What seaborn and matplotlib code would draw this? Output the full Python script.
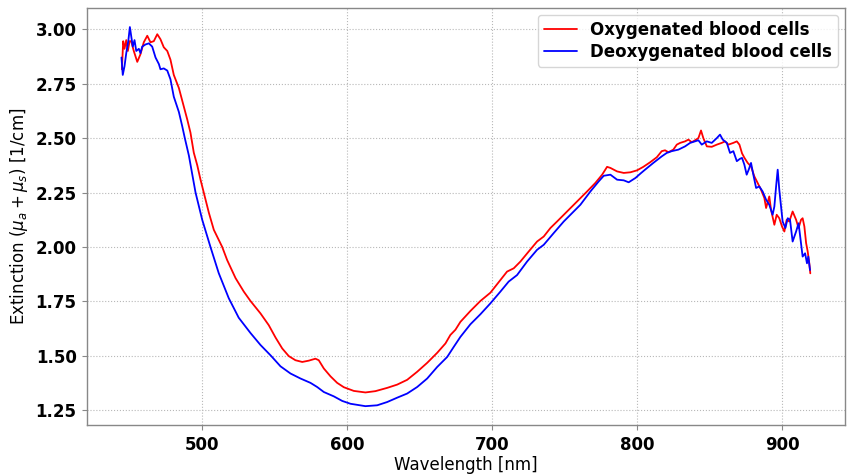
import matplotlib
matplotlib.use("Agg")
import matplotlib.pyplot as plt
import pandas as pd
import seaborn as sns

# Oxygenated blood cells: wavelength [nm] and extinction [1/cm]
oxy_wavelength = [
    444.6, 445.5, 446.4, 447.6, 448.7, 449.9, 451.0, 452.8, 455.2, 457.4,
    459.7, 462.1, 464.3, 466.6, 469.0, 471.2, 473.5, 475.9, 478.1, 480.4,
    483.9, 487.3, 489.7, 491.9, 494.2, 496.6, 498.8, 501.1, 504.6, 508.0,
    513.8, 517.2, 523.0, 528.7, 533.3, 540.2, 545.9, 550.6, 555.2, 559.7,
    564.3, 569.0, 573.5, 578.1, 580.4, 583.9, 588.5, 593.1, 597.7, 604.6,
    612.6, 619.5, 627.6, 634.5, 641.4, 648.3, 655.2, 662.1, 667.8, 671.2,
    674.7, 678.1, 685.0, 691.9, 698.8, 705.7, 710.3, 714.9, 719.5, 725.2,
    731.0, 735.6, 740.2, 744.8, 751.7, 758.6, 765.5, 771.2, 775.9, 779.3,
    781.6, 786.2, 790.8, 795.4, 800.0, 804.3, 809.0, 813.6, 817.0, 819.3,
    821.6, 825.0, 827.4, 829.7, 833.1, 835.4, 837.7, 840.0, 842.3, 844.1,
    845.7, 848.1, 851.5, 855.0, 858.4, 860.7, 863.0, 866.4, 868.8, 870.6,
    872.4, 874.0, 876.3, 878.6, 880.9, 883.2, 885.5, 887.8, 889.0, 891.2,
    892.4, 894.7, 896.3, 898.1, 900.0, 901.6, 903.2, 905.0, 907.3, 909.7,
    911.4, 913.1, 914.2, 915.4, 916.6, 917.7, 918.8, 919.5,
]
oxy_extinction = [
    2.816, 2.945, 2.910, 2.950, 2.900, 2.945, 2.945, 2.900, 2.850, 2.885,
    2.940, 2.970, 2.940, 2.945, 2.977, 2.954, 2.917, 2.900, 2.860, 2.790,
    2.730, 2.645, 2.585, 2.525, 2.433, 2.375, 2.310, 2.250, 2.157, 2.079,
    2.000, 1.940, 1.857, 1.795, 1.752, 1.695, 1.641, 1.584, 1.534, 1.499,
    1.480, 1.472, 1.478, 1.487, 1.480, 1.442, 1.406, 1.376, 1.356, 1.339,
    1.332, 1.338, 1.353, 1.368, 1.390, 1.427, 1.468, 1.514, 1.557, 1.596,
    1.620, 1.656, 1.706, 1.752, 1.790, 1.848, 1.887, 1.902, 1.933, 1.979,
    2.025, 2.048, 2.087, 2.117, 2.163, 2.209, 2.255, 2.294, 2.332, 2.368,
    2.363, 2.347, 2.340, 2.343, 2.352, 2.368, 2.389, 2.412, 2.440, 2.444,
    2.435, 2.447, 2.470, 2.478, 2.485, 2.493, 2.481, 2.490, 2.500, 2.535,
    2.500, 2.462, 2.460, 2.470, 2.478, 2.485, 2.470, 2.478, 2.485, 2.470,
    2.430, 2.410, 2.386, 2.370, 2.324, 2.294, 2.263, 2.225, 2.179, 2.232,
    2.171, 2.102, 2.148, 2.132, 2.094, 2.071, 2.125, 2.117, 2.163, 2.125,
    2.087, 2.125, 2.132, 2.094, 2.018, 1.979, 1.925, 1.879,
]

# Deoxygenated blood cells: wavelength [nm] and extinction [1/cm]
deoxy_wavelength = [
    444.3, 445.2, 446.4, 447.6, 449.0, 450.1, 451.0, 452.1, 453.3, 454.5,
    456.3, 457.4, 458.6, 460.9, 463.2, 465.5, 467.8, 470.1, 471.2, 473.5,
    475.9, 478.1, 480.4, 483.9, 486.2, 488.0, 490.8, 495.4, 500.0, 505.7,
    511.4, 518.3, 525.2, 533.3, 540.2, 547.5, 554.0, 560.9, 567.8, 574.7,
    579.3, 583.9, 590.8, 596.6, 602.3, 612.6, 620.7, 627.6, 634.5, 641.4,
    648.3, 655.2, 662.1, 669.0, 673.5, 678.1, 685.0, 691.9, 698.8, 705.7,
    711.4, 717.2, 724.1, 731.0, 735.6, 742.5, 749.4, 754.0, 760.9, 767.8,
    773.5, 777.0, 781.6, 786.2, 790.8, 794.2, 798.9, 802.3, 805.5, 811.2,
    817.0, 820.5, 823.9, 828.5, 833.1, 836.6, 840.0, 842.3, 844.6, 848.1,
    851.5, 855.0, 857.2, 859.1, 861.9, 864.1, 866.4, 868.8, 871.0, 872.4,
    874.0, 875.6, 877.0, 878.6, 880.2, 882.1, 884.3, 886.6, 889.0, 891.2,
    893.5, 894.7, 895.9, 897.0, 898.1, 899.3, 900.4, 902.3, 903.9, 905.5,
    907.3, 909.7, 911.4, 913.1, 914.2, 915.9, 917.2, 918.1, 919.3,
]
deoxy_extinction = [
    2.870, 2.790, 2.830, 2.890, 2.945, 3.010, 2.970, 2.920, 2.950, 2.900,
    2.910, 2.890, 2.920, 2.930, 2.935, 2.920, 2.870, 2.840, 2.816, 2.820,
    2.810, 2.770, 2.690, 2.620, 2.555, 2.500, 2.420, 2.250, 2.125, 2.000,
    1.880, 1.765, 1.675, 1.605, 1.550, 1.500, 1.452, 1.419, 1.396, 1.376,
    1.357, 1.334, 1.314, 1.293, 1.280, 1.269, 1.273, 1.288, 1.308, 1.327,
    1.357, 1.396, 1.449, 1.495, 1.541, 1.587, 1.645, 1.691, 1.741, 1.795,
    1.841, 1.871, 1.933, 1.987, 2.010, 2.064, 2.117, 2.148, 2.194, 2.255,
    2.301, 2.327, 2.332, 2.309, 2.306, 2.297, 2.317, 2.337, 2.355, 2.386,
    2.416, 2.432, 2.440, 2.447, 2.462, 2.478, 2.485, 2.490, 2.470, 2.485,
    2.478, 2.500, 2.516, 2.493, 2.478, 2.432, 2.440, 2.394, 2.405, 2.409,
    2.378, 2.332, 2.355, 2.386, 2.332, 2.271, 2.278, 2.255, 2.217, 2.194,
    2.148, 2.186, 2.278, 2.355, 2.263, 2.186, 2.117, 2.087, 2.132, 2.125,
    2.025, 2.071, 2.109, 2.018, 1.956, 1.971, 1.925, 1.956, 1.894,
]

series_labels = ["Oxygenated blood cells", "Deoxygenated blood cells"]
series_colors = ["red", "blue"]

sns.set_style("white")
plt.rcParams["font.family"] = ["DejaVu Sans"]
plt.rcParams["text.color"] = "black"
plt.rcParams["axes.labelcolor"] = "black"

oxy = pd.DataFrame({"wavelength": oxy_wavelength, "extinction": oxy_extinction})
deoxy = pd.DataFrame({"wavelength": deoxy_wavelength, "extinction": deoxy_extinction})

fig, ax = plt.subplots(figsize=(8.49, 4.75), dpi=100)
fig.subplots_adjust(left=0.1025, right=0.995, top=0.983, bottom=0.105)

for df, label, color in zip([oxy, deoxy], series_labels, series_colors):
    sns.lineplot(data=df, x="wavelength", y="extinction", ax=ax,
                 color=color, label=label, linewidth=1.3,
                 estimator=None, sort=False)

ax.set_xticks([500, 600, 700, 800, 900])
ax.set_yticks([1.25, 1.50, 1.75, 2.00, 2.25, 2.50, 2.75, 3.00])
ax.yaxis.set_major_formatter(matplotlib.ticker.FormatStrFormatter("%.2f"))
for lbl in ax.get_xticklabels() + ax.get_yticklabels():
    lbl.set_fontweight("bold")
    lbl.set_fontsize(12)

ax.tick_params(axis="both", which="major", length=3.5, width=0.8,
               color="#888888", labelcolor="black",
               bottom=True, left=True, pad=4)

ax.set_xlabel("Wavelength [nm]", fontsize=12, labelpad=2)
ax.set_ylabel(r"Extinction ($\mu_a + \mu_s$) [1/cm]", fontsize=12)

ax.grid(True, linestyle=":", linewidth=0.8, color="#b8b8b8")
for spine in ax.spines.values():
    spine.set_visible(True)
    spine.set_color("#888888")
    spine.set_linewidth(1.0)

ax.legend(loc="upper right", prop={"weight": "bold", "size": 12},
          handlelength=2.0, handletextpad=0.8, labelspacing=0.25,
          borderpad=0.35, borderaxespad=0.4, framealpha=0.8)

fig.savefig("out.png", dpi=100)
